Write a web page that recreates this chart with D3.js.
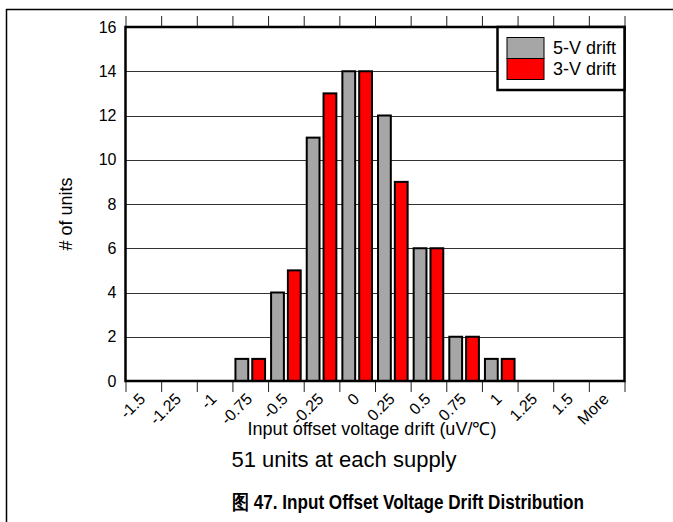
<!DOCTYPE html>
<html>
<head>
<meta charset="utf-8">
<script src="https://cdn.jsdelivr.net/npm/d3@7"></script>
<style>
  body { margin: 0; background: #fff; }
  text { font-family: "Liberation Sans", Arial, sans-serif; }
</style>
</head>
<body>
<script>
var width = 673,
    height = 522;

// data
var bins = ["-1.5", "-1.25", "-1", "-0.75", "-0.5", "-0.25", "0", "0.25", "0.5", "0.75", "1", "1.25", "1.5", "More"];
var drift5V = [0, 0, 0, 1, 4, 11, 14, 12, 6, 2, 1, 0, 0, 0];
var drift3V = [0, 0, 0, 1, 5, 13, 14, 9, 6, 2, 1, 0, 0, 0];
var seriesNames = ["5-V drift", "3-V drift"];
var seriesColors = ["#a6a6a6", "#ff0000"];
var yTicks = [0, 2, 4, 6, 8, 10, 12, 14, 16];

//plot area (note: "top" is a window property, so use other names)
var plotLeft = 125.5, plotRight = 624.5, plotTop = 27, plotBottom = 381;

var svg = d3.select("body").append("svg")
    .attr("width", width)
    .attr("height", height);

//page frame
svg.append("line").attr("x1", 6.5).attr("y1", 9).attr("x2", 6.5).attr("y2", height)
    .attr("stroke", "#000").attr("stroke-width", 1.5);
svg.append("line").attr("x1", 6).attr("y1", 9.5).attr("x2", width).attr("y2", 9.5)
    .attr("stroke", "#000").attr("stroke-width", 1.5);

var x = d3.scaleBand().domain(bins).range([plotLeft, plotRight]).padding(0);
var xEdge = d3.scaleLinear().domain([0, bins.length]).range([plotLeft, plotRight]);
var xs = d3.scaleBand().domain(seriesNames).range([0, x.bandwidth()]).padding(0.12);
var y = d3.scaleLinear().domain([0, 16]).range([plotBottom, plotTop]);

//grid lines
svg.append("g").selectAll("line")
    .data(yTicks.filter(function(d) { return d > 0 && d < 16; }))
    .enter().append("line")
    .attr("x1", plotLeft).attr("x2", plotRight)
    .attr("y1", function(d) { return Math.round(y(d)) + 0.5; })
    .attr("y2", function(d) { return Math.round(y(d)) + 0.5; })
    .attr("stroke", "#333").attr("stroke-width", 1);

//tick marks at bin edges, top and bottom
var topTicks = svg.append("g").attr("transform", "translate(0," + plotTop + ")")
    .call(d3.axisTop(xEdge).tickValues(d3.range(bins.length + 1)).tickSize(11).tickFormat(""));
var botTicks = svg.append("g").attr("transform", "translate(0," + plotBottom + ")")
    .call(d3.axisBottom(xEdge).tickValues(d3.range(bins.length + 1)).tickSize(11).tickFormat(""));
[topTicks, botTicks].forEach(function(g) {
    g.select(".domain").remove();
    g.selectAll(".tick line").attr("stroke", "#222").attr("stroke-width", 1);
});

//bars
var rows = bins.map(function(b, i) { return {bin: b, values: [drift5V[i], drift3V[i]]}; });
var groups = svg.append("g").selectAll("g")
    .data(rows)
    .enter().append("g")
    .attr("transform", function(d) { return "translate(" + x(d.bin) + ",0)"; });

groups.selectAll("rect")
    .data(function(d) {
        return d.values.map(function(v, k) { return {name: seriesNames[k], value: v, k: k}; })
            .filter(function(e) { return e.value > 0; });
    })
    .enter().append("rect")
    .attr("x", function(d) { return xs(d.name) + 1; })
    .attr("y", function(d) { return y(d.value); })
    .attr("width", xs.bandwidth() - 2)
    .attr("height", function(d) { return y(0) - y(d.value); })
    .attr("fill", function(d) { return seriesColors[d.k]; })
    .attr("stroke", "#000")
    .attr("stroke-width", 2);

//plot frame
svg.append("rect")
    .attr("x", plotLeft).attr("y", plotTop)
    .attr("width", plotRight - plotLeft).attr("height", plotBottom - plotTop)
    .attr("fill", "none").attr("stroke", "#000").attr("stroke-width", 2.5);

//y axis labels
var yAxis = svg.append("g").attr("transform", "translate(" + plotLeft + ",0)")
    .call(d3.axisLeft(y).tickValues(yTicks).tickSize(0).tickPadding(9));
yAxis.select(".domain").remove();
yAxis.selectAll("text")
    .attr("font-family", "'Liberation Sans', Arial, sans-serif")
    .attr("font-size", "16px")
    .attr("fill", "#000");

//x axis labels, rotated
var xAxis = svg.append("g").attr("transform", "translate(0," + plotBottom + ")")
    .call(d3.axisBottom(x).tickSize(0).tickFormat(function(d) { return d; }));
xAxis.select(".domain").remove();
xAxis.selectAll("text")
    .attr("font-family", "'Liberation Sans', Arial, sans-serif")
    .attr("font-size", "16px")
    .attr("fill", "#000")
    .attr("text-anchor", "end")
    .attr("dy", 0)
    .attr("y", 0)
    .attr("transform", "translate(3,19) rotate(-45)");

//axis titles
svg.append("text")
    .attr("transform", "translate(72,214) rotate(-90)")
    .attr("text-anchor", "middle")
    .attr("font-size", "18px")
    .text("# of units");

svg.append("text")
    .attr("x", 372).attr("y", 435)
    .attr("text-anchor", "middle")
    .attr("font-size", "18px")
    .text("Input offset voltage drift (uV/\u2103)");

svg.append("text")
    .attr("x", 344).attr("y", 467)
    .attr("text-anchor", "middle")
    .attr("font-size", "22px")
    .text("51 units at each supply");

svg.append("text")
    .attr("x", 408).attr("y", 509)
    .attr("text-anchor", "middle")
    .attr("font-size", "20px")
    .attr("font-weight", "bold")
    .attr("textLength", 352)
    .attr("lengthAdjust", "spacingAndGlyphs")
    .text("\u56fe 47. Input Offset Voltage Drift Distribution");

//legend
var legend = svg.append("g");
legend.append("rect")
    .attr("x", 497.5).attr("y", plotTop)
    .attr("width", plotRight - 497.5).attr("height", 63)
    .attr("fill", "#fff").attr("stroke", "#000").attr("stroke-width", 2.5);
seriesNames.forEach(function(name, i) {
    legend.append("rect")
        .attr("x", 507).attr("y", 37.5 + i * 21)
        .attr("width", 37).attr("height", 21)
        .attr("fill", seriesColors[i]).attr("stroke", "#000").attr("stroke-width", 1);
    legend.append("text")
        .attr("x", 553).attr("y", 54 + i * 21)
        .attr("font-size", "18px")
        .text(name);
});
</script>
</body>
</html>
